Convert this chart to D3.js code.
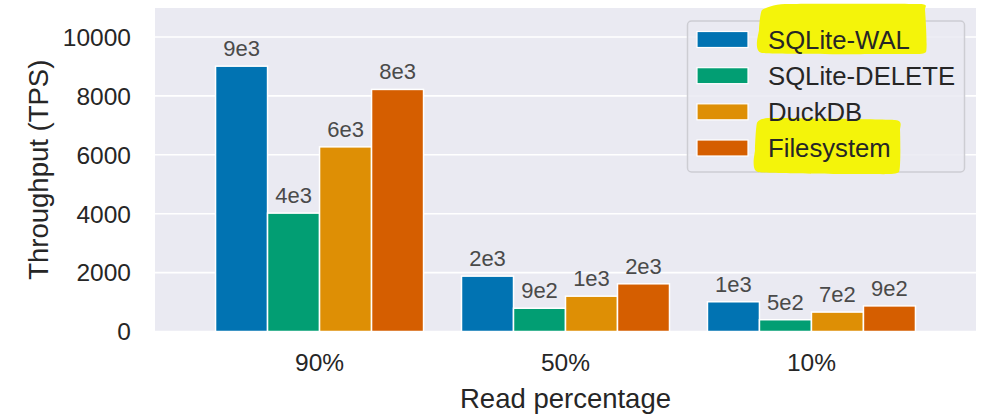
<!DOCTYPE html>
<html>
<head>
<meta charset="utf-8">
<script src="https://cdn.jsdelivr.net/npm/d3@7"></script>
<style>
	body { margin: 0; background: #fff; }
	text { font-family: "Liberation Sans", Arial, sans-serif; }
</style>
</head>
<body>
<script>
"use strict";

// data
var categories = ["90%", "50%", "10%"];
var series = ["SQLite-WAL", "SQLite-DELETE", "DuckDB", "Filesystem"];
var colors = ["#0173b2", "#029e73", "#de8f05", "#d55e00"];

var sqliteWal = [9010, 1880, 1010];
var sqliteDelete = [4020, 790, 400];
var duckdb = [6270, 1200, 660];
var filesystem = [8220, 1620, 870];

var walLabels = ["9e3", "2e3", "1e3"];
var deleteLabels = ["4e3", "9e2", "5e2"];
var duckLabels = ["6e3", "1e3", "7e2"];
var fsLabels = ["8e3", "2e3", "9e2"];

var yTicks = [0, 2000, 4000, 6000, 8000, 10000];

var values = [sqliteWal, sqliteDelete, duckdb, filesystem];
var labels = [walLabels, deleteLabels, duckLabels, fsLabels];

var width = 989, height = 415;
var plotLeft = 155, plotRight = 976, plotTop = 8, plotBottom = 331.5;

var svg = d3.select("body")
	.append("svg")
	.attr("width", width)
	.attr("height", height);

var x0 = d3.scaleBand()
	.domain(categories)
	.range([plotLeft, plotRight])
	.paddingInner(0)
	.paddingOuter(0.169);

var x1 = d3.scaleBand()
	.domain(series)
	.range([0, x0.bandwidth()])
	.paddingInner(0)
	.paddingOuter(0.365);

var y = d3.scaleLinear()
	.domain([0, 10985])
	.range([plotBottom, plotTop]);

// background + grid
svg.append("rect")
	.attr("x", plotLeft)
	.attr("y", plotTop)
	.attr("width", plotRight - plotLeft)
	.attr("height", plotBottom - plotTop)
	.attr("fill", "#eaeaf2");

svg.append("g")
	.selectAll("line")
	.data(yTicks)
	.enter()
	.append("line")
	.attr("x1", plotLeft)
	.attr("x2", plotRight)
	.attr("y1", function(d) { return y(d); })
	.attr("y2", function(d) { return y(d); })
	.attr("stroke", "#fff")
	.attr("stroke-width", 1.6);

// y ticks
svg.append("g")
	.selectAll("text")
	.data(yTicks)
	.enter()
	.append("text")
	.attr("x", 131)
	.attr("y", function(d) { return y(d); })
	.attr("dy", "0.36em")
	.attr("text-anchor", "end")
	.attr("font-size", 24.5)
	.attr("fill", "#262626")
	.text(function(d) { return d; });

// x ticks
svg.append("g")
	.selectAll("text")
	.data(categories)
	.enter()
	.append("text")
	.attr("x", function(d) { return x0(d) + x0.bandwidth() / 2; })
	.attr("y", 362)
	.attr("dy", "0.36em")
	.attr("text-anchor", "middle")
	.attr("font-size", 24.5)
	.attr("fill", "#262626")
	.text(function(d) { return d; });

// axis titles
svg.append("text")
	.attr("x", (plotLeft + plotRight) / 2)
	.attr("y", 398)
	.attr("dy", "0.36em")
	.attr("text-anchor", "middle")
	.attr("font-size", 27.5)
	.attr("fill", "#262626")
	.text("Read percentage");

svg.append("text")
	.attr("transform", "translate(38," + ((plotTop + plotBottom) / 2) + ") rotate(-90)")
	.attr("dy", "0.36em")
	.attr("text-anchor", "middle")
	.attr("font-size", 27.5)
	.attr("fill", "#262626")
	.text("Throughput (TPS)");

// bars
series.forEach(function(name, s) {
	var g = svg.append("g");
	g.selectAll("rect")
		.data(values[s])
		.enter()
		.append("rect")
		.attr("x", function(d, i) { return x0(categories[i]) + x1(name); })
		.attr("y", function(d) { return y(d); })
		.attr("width", x1.bandwidth())
		.attr("height", function(d) { return y(0) - y(d); })
		.attr("fill", colors[s])
		.attr("stroke", "#fff")
		.attr("stroke-width", 1.5);

	g.selectAll("text")
		.data(values[s])
		.enter()
		.append("text")
		.attr("x", function(d, i) { return x0(categories[i]) + x1(name) + x1.bandwidth() / 2; })
		.attr("y", function(d) { return y(d) - 10; })
		.attr("text-anchor", "middle")
		.attr("font-size", 22)
		.attr("fill", "#4a4a4a")
		.text(function(d, i) { return labels[s][i]; });
});

// legend
var legend = svg.append("g");

legend.append("rect")
	.attr("x", 687.5)
	.attr("y", 21)
	.attr("width", 277)
	.attr("height", 151)
	.attr("rx", 4)
	.attr("fill", "#eaeaf2")
	.attr("fill-opacity", 0.85)
	.attr("stroke", "#cdcdd3")
	.attr("stroke-width", 1.5);

// yellow highlighter marks
var marks = [
	[[762, 10], [785, 4], [920, 4], [925, 10], [926, 52], [900, 54], [762, 53], [759, 30]],
	[[757, 123], [770, 118], [895, 120], [900, 130], [899, 172], [870, 174], [758, 172], [755, 150]]
];
legend.selectAll("path.mark")
	.data(marks)
	.enter()
	.append("path")
	.attr("class", "mark")
	.attr("d", function(d) { return d3.line().curve(d3.curveCardinalClosed.tension(0.6))(d); })
	.attr("fill", "#f4f40a");

var rowY = d3.scalePoint()
	.domain(series)
	.range([39.5, 148]);

legend.selectAll("rect.sw")
	.data(series)
	.enter()
	.append("rect")
	.attr("class", "sw")
	.attr("x", 697)
	.attr("y", function(d) { return rowY(d) - 8; })
	.attr("width", 51)
	.attr("height", 16)
	.attr("fill", function(d, i) { return colors[i]; })
	.attr("stroke", "#fff")
	.attr("stroke-width", 1.2);

legend.selectAll("text")
	.data(series)
	.enter()
	.append("text")
	.attr("x", 768)
	.attr("y", function(d) { return rowY(d); })
	.attr("dy", "0.36em")
	.attr("font-size", 25.7)
	.attr("fill", "#262626")
	.text(function(d) { return d; });
</script>
</body>
</html>
